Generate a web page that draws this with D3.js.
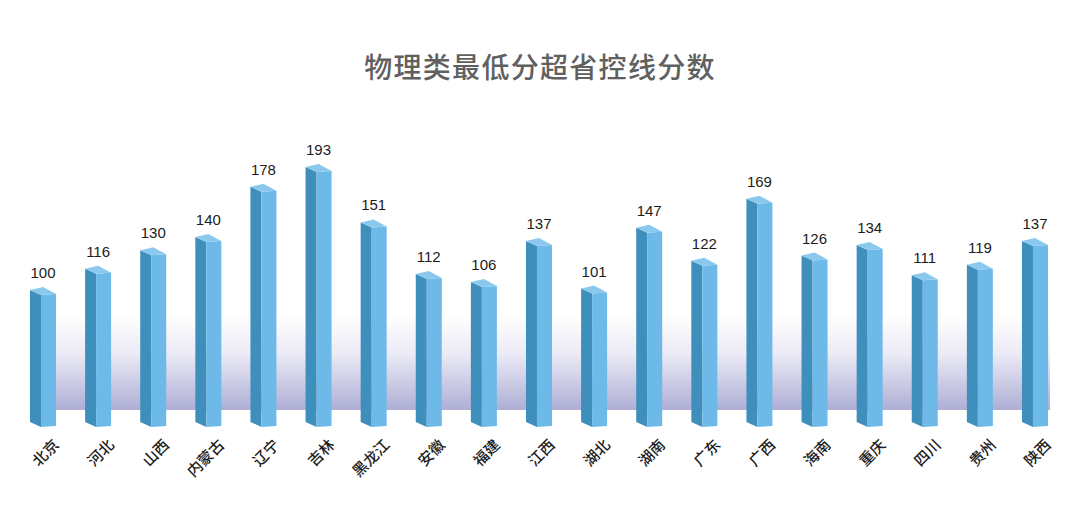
<!DOCTYPE html>
<html>
<meta charset="utf-8">
<script src="https://d3js.org/d3.v7.min.js"></script>
<style>
  html, body { margin: 0; padding: 0; background: #fff; }
  svg { display: block; }
</style>
<body>
<div id="my_dataviz"></div>
<script>
// chart data
var provinces = ["北京","河北","山西","内蒙古","辽宁","吉林","黑龙江","安徽","福建","江西","湖北","湖南","广东","广西","海南","重庆","四川","贵州","陕西"];
var scores = [100,116,130,140,178,193,151,112,106,137,101,147,122,169,126,134,111,119,137];
var chartTitle = "物理类最低分超省控线分数";

var width = 1080, height = 512;
var baseline = 422;

var svg = d3.select("#my_dataviz")
  .append("svg")
    .attr("width", width)
    .attr("height", height);

// purple fade behind the bars
var grad = svg.append("defs").append("linearGradient")
    .attr("id", "floor")
    .attr("x1", 0).attr("y1", 0).attr("x2", 0).attr("y2", 1);
grad.append("stop").attr("offset", "0%").attr("stop-color", "#ffffff");
grad.append("stop").attr("offset", "40%").attr("stop-color", "#ecebf6");
grad.append("stop").attr("offset", "100%").attr("stop-color", "#aeaed6");

svg.append("rect")
    .attr("x", 30).attr("y", 315)
    .attr("width", 1020).attr("height", 95)
    .attr("fill", "url(#floor)");

// scales
var x = d3.scaleBand()
    .domain(provinces)
    .range([30, 30 + 55.11 * provinces.length]);
var y = d3.scaleLinear()
    .domain([0, 193])
    .range([baseline, 167]);

// shape of the fake 3d box, relative to the left edge
var sideW = 11, frontW = 15, skew = 5, topBack = 13;

var bars = svg.selectAll("g.bar")
    .data(provinces)
    .enter().append("g")
      .attr("class", "bar")
      .attr("transform", function(d, i) {
        return "translate(" + x(d) + "," + y(scores[i]) + ")";
      });

function barH(i) { return baseline - y(scores[i]); }

// left side
bars.append("path")
    .attr("fill", "#3f8fbd")
    .attr("d", function(d, i) {
      var h = barH(i);
      return "M0,0L" + sideW + "," + skew + "L" + sideW + "," + (h + skew) + "L0," + h + "Z";
    });
// front
bars.append("path")
    .attr("fill", "#6dbae9")
    .attr("d", function(d, i) {
      var h = barH(i);
      return "M" + sideW + "," + skew + "L" + (sideW + frontW) + "," + (skew - 1) +
             "L" + (sideW + frontW) + "," + (h + skew - 1) + "L" + sideW + "," + (h + skew) + "Z";
    });
// top
bars.append("path")
    .attr("fill", "#8ac8ee")
    .attr("d", "M0,0L" + topBack + ",-3L" + (sideW + frontW) + "," + (skew - 1) + "L" + sideW + "," + skew + "Z");

// value labels
svg.selectAll("text.value")
    .data(scores)
    .enter().append("text")
      .attr("class", "value")
      .attr("text-anchor", "middle")
      .attr("x", function(d, i) { return x(provinces[i]) + 13; })
      .attr("y", function(d) { return y(d) - 10; })
      .attr("fill", "#1c1c1c")
      .style("font-family", "'Liberation Sans', sans-serif")
      .style("font-size", "15px")
      .attr("dy", "-2")
      .text(function(d) { return d; });

// province labels, rotated
svg.selectAll("text.name")
    .data(provinces)
    .enter().append("text")
      .attr("class", "name")
      .attr("text-anchor", "end")
      .attr("transform", function(d) {
        return "translate(" + (x(d) + 30) + ",446)rotate(-45)";
      })
      .attr("fill", "#1c1c1c")
      .style("font-family", "'Noto Sans CJK SC', sans-serif")
      .style("font-size", "15px")
      .style("font-weight", "500")
      .text(function(d) { return d; });

// title
svg.append("text")
    .attr("x", 540)
    .attr("y", 78)
    .attr("text-anchor", "middle")
    .attr("fill", "#606060")
    .style("font-family", "'Noto Sans CJK SC', sans-serif")
    .style("font-size", "28px")
    .style("font-weight", "500")
    .style("letter-spacing", "1.3px")
    .text(chartTitle);
</script>
</body>
</html>
